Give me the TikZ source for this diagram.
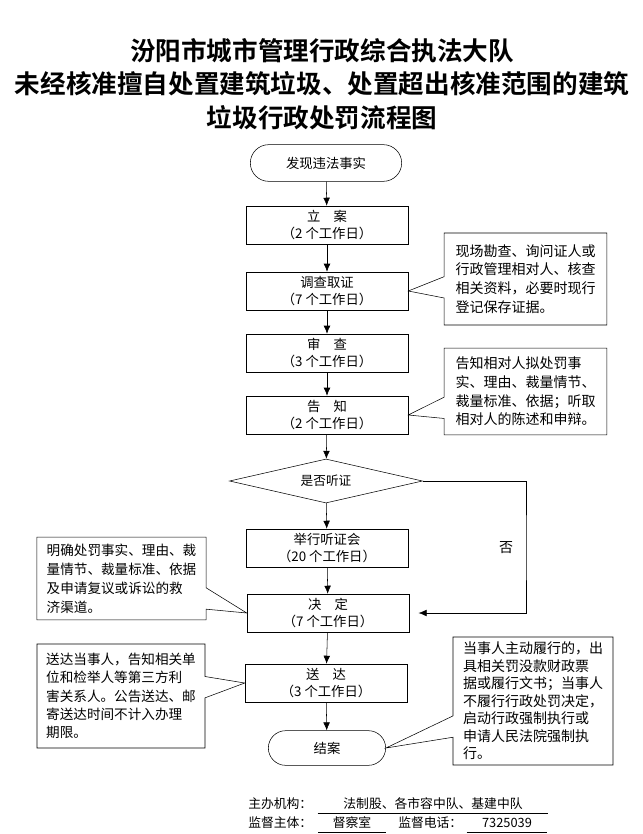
\documentclass[tikz,border=0pt]{standalone}
\usepackage{fontspec}
\setmainfont{Noto Sans CJK SC}[BoldFont={Noto Sans CJK SC Bold}]
\usetikzlibrary{shapes.geometric,shapes.misc,shapes.callouts,arrows.meta}

\begin{document}
\begin{tikzpicture}[x=0.75pt,y=-0.75pt,
	stepbox/.style={draw, rectangle, minimum width=121.5pt, minimum height=28.5pt, inner sep=1pt, align=center, font=\fontsize{10}{13}\selectfont},
	term/.style={draw, rounded rectangle, minimum height=27.5pt, inner sep=1pt, font=\fontsize{10}{13}\selectfont},
	note/.style={draw, rectangle callout, callout pointer width=16pt, inner sep=0pt, align=left, font=\fontsize{10.5}{14}\selectfont},
	foot/.style={inner sep=0pt, minimum height=13.5pt, font=\fontsize{9.6}{12}\selectfont},
	arr/.style={-{Latex[length=6pt,width=5pt]}, thin}]
	\useasboundingbox (0,0) rectangle (642,834);

	% title
	\node[align=center, font=\fontsize{19.2}{25}\selectfont\bfseries] (title) at (322,84) {汾阳市城市管理行政综合执法大队\\未经核准擅自处置建筑垃圾、处置超出核准范围的建筑\\垃圾行政处罚流程图};

	% main flow
	\node[term, minimum width=115.5pt] (start) at (326,163) {发现违法事实};
	\node[stepbox] (lian) at (327,225) {立\quad 案\\（2 个工作日）};
	\node[stepbox] (diao) at (327,291) {调查取证\\（7 个工作日）};
	\node[stepbox] (shen) at (327,353) {审\quad 查\\（3 个工作日）};
	\node[stepbox] (gao) at (327,415) {告\quad 知\\（2 个工作日）};
	\node[draw, diamond, aspect=4.4, minimum width=144.75pt, minimum height=33pt, inner sep=0pt, font=\fontsize{9.5}{12}\selectfont] (dec) at (326,481) {是否听证};
	\node[stepbox] (ting) at (327,548) {举行听证会\\（20 个工作日）};
	\node[stepbox] (jue) at (328,613) {决\quad 定\\（7 个工作日）};
	\node[stepbox] (song) at (326,683) {送\quad 达\\（3 个工作日）};
	\node[term, minimum width=90pt, minimum height=26pt] (end) at (327,748) {结案};

	\draw[arr] (start) -- (lian);
	\draw[arr] (lian) -- (diao);
	\draw[arr] (diao) -- (shen);
	\draw[arr] (shen) -- (gao);
	\draw[arr] (gao) -- (dec);
	\draw[arr] (dec) -- (ting);
	\draw[arr] (ting) -- (jue);
	\draw[arr] (jue) -- (song);
	\draw[arr] (song) -- (end);

	% no hearing
	\coordinate (turn) at (526,548);
	\draw[arr, shorten >=7pt] (dec.east) -| (turn) |- (jue.east);
	\node[font=\fontsize{10.5}{13}\selectfont] (fou) at (506,548) {否};

	% notes
	\node[note, minimum width=122pt, minimum height=69pt, callout absolute pointer={(diao.east)}] (n1) at (525.5,279) {现场勘查、询问证人或\\行政管理相对人、核查\\相关资料，必要时现行\\登记保存证据。};
	\node[note, minimum width=122pt, minimum height=65pt, callout absolute pointer={(gao.east)}] (n2) at (525.5,391.5) {告知相对人拟处罚事\\实、理由、裁量情节、\\裁量标准、依据；听取\\相对人的陈述和申辩。};
	\node[note, font=\fontsize{10.2}{14.2}\selectfont, minimum width=127pt, minimum height=62pt, callout absolute pointer={(jue.west)}] (n3) at (121.5,578.5) {明确处罚事实、理由、裁\\量情节、裁量标准、依据\\及申请复议或诉讼的救\\济渠道。};
	\node[note, font=\fontsize{10.2}{13.7}\selectfont, minimum width=126pt, minimum height=78pt, callout absolute pointer={(song.west)}] (n4) at (121,696) {送达当事人，告知相关单\\位和检举人等第三方利\\害关系人。公告送达、邮\\寄送达时间不计入办理\\期限。};
	\node[note, font=\fontsize{10.5}{13.1}\selectfont, minimum width=120pt, minimum height=96pt, callout absolute pointer={(end.east)}] (n5) at (533,701) {当事人主动履行的，出\\具相关罚没款财政票\\据或履行文书；当事人\\不履行行政处罚决定，\\启动行政强制执行或\\申请人民法院强制执\\行。};

	% footer
	\node[foot, anchor=west] (zb) at (248,804) {主办机构：};
	\node[foot, minimum width=172.5pt] (org) at (433,804) {法制股、各市容中队、基建中队};
	\draw (org.south west) -- (org.south east);
	\node[foot, anchor=west] (jd) at (248,823) {监督主体：};
	\node[foot, minimum width=50pt] (dcs) at (352,823) {督察室};
	\draw (dcs.south west) -- (dcs.south east);
	\node[foot, anchor=west] (dh) at (398,823) {监督电话：};
	\node[foot, minimum width=60pt] (tel) at (507,823) {7325039};
	\draw (tel.south west) -- (tel.south east);
\end{tikzpicture}
\end{document}
